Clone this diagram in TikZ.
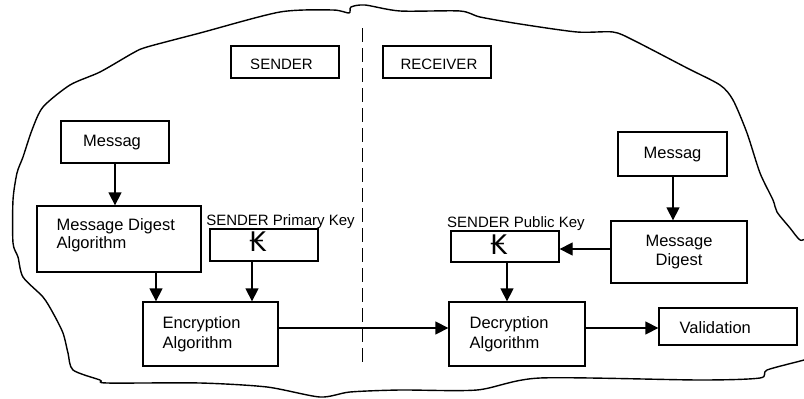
\documentclass[tikz,border=0pt]{standalone}
\usepackage{fontspec}
\setmainfont{Liberation Sans}
\newfontfamily\kipfont{DejaVu Sans}
\usetikzlibrary{arrows.meta}
\begin{document}
\begin{tikzpicture}[x=1pt,y=-1pt,line width=1.3pt,
  box/.style={draw,rectangle,inner sep=0pt},
  lbl/.style={font=\fontsize{16.5}{20}\selectfont,inner sep=0pt,align=left},
  small/.style={font=\fontsize{15}{18}\selectfont,inner sep=0pt},
  kip/.style={font=\kipfont\fontsize{27}{28}\selectfont,inner sep=0pt},
  arr/.style={-{Triangle[length=13pt,width=13pt]}}]
\useasboundingbox (0,0) rectangle (804,399);
% outline
\draw[line width=1.4pt] plot[smooth cycle,tension=0.45] coordinates {
 (13,200)(17,173)(23,157)(32,130)(43,107)(70,85)(100,72)(133,53)(147,47)
 (200,33)(280,12)(333,10)(349,13)(351,7)(365,5)(400,11)(460,11)(480,17)
 (520,24)(577,32)(613,32)(633,40)(687,68)(720,85)(733,100)(747,133)
 (760,173)(773,200)(777,212)(790,228)(800,240)(814,246)(814,356)
 (804,360)(767,370)(760,378)(700,380)(540,378)(477,390)(400,390)
 (350,392)(320,397)(267,387)(200,383)(107,383)(100,380)(73,370)(68,353)
 (63,333)(53,313)(43,297)(23,277)(18,257)(13,243)};
% divider
\draw[dash pattern=on 14pt off 6pt] (362.7,28) coordinate (dtop) -- (362.7,366) coordinate (dbot);
% boxes
\node[box,minimum width=108pt,minimum height=32pt] (senderbox) at (285,62) {};
\node[box,minimum width=108pt,minimum height=32pt] (receiverbox) at (437,62) {};
\node[box,minimum width=108pt,minimum height=42pt] (msgL) at (115,142) {};
\node[box,minimum width=164pt,minimum height=66pt] (mda) at (119,239) {};
\node[box,minimum width=108pt,minimum height=32pt] (keyS) at (264,245) {};
\node[box,minimum width=135pt,minimum height=64pt] (enc) at (210.5,334) {};
\node[box,minimum width=136pt,minimum height=64pt] (dec) at (517,334) {};
\node[box,minimum width=138pt,minimum height=37pt] (val) at (728,326.5) {};
\node[box,minimum width=108pt,minimum height=31pt] (keyR) at (505,246.5) {};
\node[box,minimum width=136pt,minimum height=62pt] (md) at (679,252) {};
\node[box,minimum width=109pt,minimum height=44pt] (msgR) at (672.5,154) {};
% texts
\begin{scope}
\clip (231,47) rectangle (339,68.8);
\node[small] (sendertxt) at (281.5,64.5) {SENDER};
\end{scope}
\node[small,anchor=west] (receivertxt) at (400,64) {RECEIVER};
\node[lbl] (msgLtxt) at (112,143) {Messag};
\node[lbl,anchor=west,font=\fontsize{16.5}{18}\selectfont] (mdatxt) at (56,235) {Message Digest\\Algorithm};
\node[small] (keyStxt) at (280.5,222) {SENDER Primary Key};
\node[kip] (kipS) at (258,242) {₭};
\node[lbl,anchor=west] (enctxt) at (162,334) {Encryption\\Algorithm};
\node[lbl,anchor=west] (dectxt) at (469,334) {Decryption\\Algorithm};
\node[lbl,anchor=west] (valtxt) at (679,328) {Validation};
\node[small] (keyRtxt) at (516,224) {SENDER Public Key};
\node[kip] (kipR) at (499,245) {₭};
\node[lbl,align=center,font=\fontsize{16.5}{19}\selectfont] (mdtxt) at (679,252) {Message\\Digest};
\node[lbl] (msgRtxt) at (672.5,155) {Messag};
% arrows
\draw[arr] (msgL.south) -- (msgL.south |- mda.north);
\draw[arr] (mda.south -| 156,0) -- (enc.north -| 156,0);
\draw[arr] (keyS.south -| 252,0) -- (enc.north -| 252,0);
\draw[arr] (enc.east |- 0,328) -- (dec.west |- 0,328);
\draw[arr] (dec.east |- 0,328) -- (val.west |- 0,328);
\draw[arr] (msgR.south -| 673,0) -- (md.north -| 673,0);
\draw[arr] (md.west |- 0,249) -- (keyR.east |- 0,249);
\draw[arr] (keyR.south -| 507,0) -- (dec.north -| 507,0);
\end{tikzpicture}
\end{document}
